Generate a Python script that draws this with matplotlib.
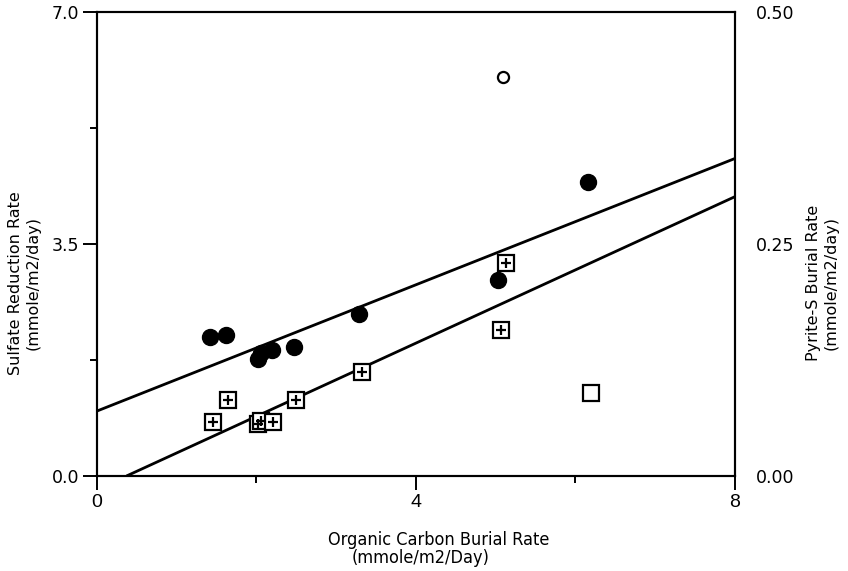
import matplotlib
matplotlib.use('Agg')
import matplotlib.pyplot as plt
from matplotlib.ticker import MultipleLocator

# Sulfate reduction rate (left axis) vs organic carbon burial rate
sr_x = [1.42, 1.62, 2.02, 2.06, 2.19, 2.47, 3.29, 5.03, 6.16]
sr_y = [2.10, 2.13, 1.76, 1.85, 1.90, 1.95, 2.44, 2.96, 4.43]
sr_out_x = [5.09]
sr_out_y = [6.02]

# Pyrite-S burial rate (right axis)
py_x = [1.45, 1.64, 2.02, 2.06, 2.21, 2.50, 3.32, 5.07, 5.13]
py_y = [0.058, 0.082, 0.056, 0.059, 0.058, 0.082, 0.112, 0.157, 0.229]
py_out_x = [6.19]
py_out_y = [0.089]

# fitted lines (end points)
fit_sr_x = [0.0, 8.0]
fit_sr_y = [0.98, 4.79]
fit_py_x = [0.37, 8.0]
fit_py_y = [0.0, 0.301]

fig = plt.figure(figsize=(8.48, 5.71), dpi=100)
ax = fig.add_axes([0.1144, 0.1664, 0.7523, 0.8126])
ax2 = ax.twinx()

ax.plot(fit_sr_x, fit_sr_y, color='black', lw=2.0, solid_capstyle='butt')
ax.plot(sr_x, sr_y, 'o', color='black', markersize=11.5, zorder=3)
ax.plot(sr_out_x, sr_out_y, 'o', mfc='white', mec='black', mew=1.6, markersize=8)

ax2.plot(fit_py_x, fit_py_y, color='black', lw=2.0, solid_capstyle='butt')
ax2.plot(py_x, py_y, 's', mfc='white', mec='black', mew=1.6, markersize=11.5)
ax2.plot(py_x, py_y, '+', color='black', mew=1.6, markersize=7)
ax2.plot(py_out_x, py_out_y, 's', mfc='white', mec='black', mew=1.6, markersize=11.5)

ax.set_xlim(0, 8)
ax.set_ylim(0, 7)
ax2.set_ylim(0, 0.5)

ax.set_xticks([0, 4, 8])
ax.set_xticklabels(['0', '4', '8'], family='Liberation Sans', fontsize=14)
ax.xaxis.set_minor_locator(MultipleLocator(2))
ax.set_yticks([0, 3.5, 7])
ax.set_yticklabels(['0.0', '3.5', '7.0'], fontsize=12.5)
ax.yaxis.set_minor_locator(MultipleLocator(1.75))
ax2.set_yticks([0, 0.25, 0.5])
ax2.set_yticklabels(['0.00', '0.25', '0.50'], fontsize=12.5)

ax.tick_params(which='major', direction='out', length=10, width=1.4, pad=3)
ax.tick_params(which='minor', direction='out', length=5, width=1.4)
ax.tick_params(axis='y', which='both', right=False)
ax.tick_params(axis='x', which='both', top=False)
ax2.tick_params(axis='y', which='both', length=0, pad=15)

for a in (ax, ax2):
    for s in a.spines.values():
        s.set_linewidth(1.5)

xlab = dict(ha='center', va='baseline', family='DejaVu Sans',
            fontstretch='condensed', fontsize=13)
fig.text(439 / 848, 1 - 545 / 571, 'Organic Carbon Burial Rate', **xlab)
fig.text(421 / 848, 1 - 563 / 571, '(mmole/m2/Day)', **xlab)
fig.text(24 / 848, 1 - 283 / 571, 'Sulfate Reduction Rate\n(mmole/m2/day)',
         ha='center', va='center', rotation=90, fontsize=11.5, linespacing=1.2)
fig.text(822 / 848, 1 - 283 / 571, 'Pyrite-S Burial Rate\n(mmole/m2/day)',
         ha='center', va='center', rotation=90, fontsize=11.5, linespacing=1.2)

fig.savefig('out.png', dpi=100)
